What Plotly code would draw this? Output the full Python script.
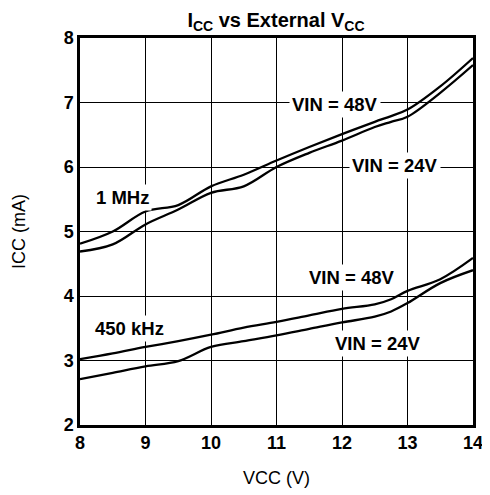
import plotly.graph_objects as go

vcc = [8, 8.5, 9, 9.5, 10, 10.5, 11, 11.5, 12, 12.5, 12.75, 13, 13.5, 14]
icc_1m_48 = [4.81, 5.00, 5.31, 5.41, 5.70, 5.88, 6.10, 6.31, 6.51, 6.70, 6.79, 6.89, 7.25, 7.69]
icc_1m_24 = [4.69, 4.80, 5.11, 5.34, 5.60, 5.70, 6.00, 6.22, 6.41, 6.62, 6.70, 6.78, 7.15, 7.58]
icc_450_48 = [3.02, 3.11, 3.21, 3.30, 3.40, 3.51, 3.60, 3.70, 3.80, 3.87, 3.95, 4.08, 4.26, 4.59]
icc_450_24 = [2.71, 2.81, 2.91, 2.99, 3.21, 3.30, 3.39, 3.49, 3.59, 3.68, 3.76, 3.89, 4.20, 4.40]

labels = [
    ("1 MHz", 8.65, 5.52),
    ("VIN = 48V", 11.9, 6.97),
    ("VIN = 24V", 12.81, 6.03),
    ("450 kHz", 8.76, 3.50),
    ("VIN = 48V", 12.15, 4.29),
    ("VIN = 24V", 12.55, 3.26),
]

FONT = "Liberation Sans, Arial"

fig = go.Figure()
for ys in [icc_1m_48, icc_1m_24, icc_450_48, icc_450_24]:
    fig.add_trace(go.Scatter(x=vcc, y=ys, mode="lines",
                             line=dict(color="black", width=2.3, shape="spline", smoothing=1.0),
                             showlegend=False, hoverinfo="skip"))

for txt, x, y in labels:
    fig.add_annotation(x=x, y=y, text="<b>" + txt + "</b>", showarrow=False, bgcolor="white",
                       font=dict(family=FONT, size=18.5, color="black"), borderpad=2)

fig.update_layout(
    width=476, height=480,
    margin=dict(l=72, r=11, t=30, b=63),
    paper_bgcolor="white", plot_bgcolor="white",
    font=dict(family=FONT, size=18, color="black"),
    title=dict(text="<b>I<sub>CC</sub> vs External V<sub>CC</sub></b>", x=0.563, xanchor="center",
               y=0.975, yanchor="middle", font=dict(family=FONT, size=20, color="black")),
    xaxis=dict(range=[8, 14], dtick=1, showgrid=True, gridcolor="black", gridwidth=1,
               showline=True, linecolor="black", linewidth=2.5, mirror=True, zeroline=False,
               automargin=False,
               ticks="", tickfont=dict(family=FONT, size=18, color="black"),
               tickprefix="<b>", ticksuffix="</b>",
               title=dict(text="VCC (V)", standoff=23, font=dict(family=FONT, size=18))),
    yaxis=dict(range=[2, 8], dtick=1, showgrid=True, gridcolor="black", gridwidth=1,
               showline=True, linecolor="black", linewidth=2.5, mirror=True, zeroline=False,
               automargin=False,
               ticks="", tickfont=dict(family=FONT, size=18, color="black"),
               tickprefix="<b>", ticksuffix="</b>",
               title=dict(text="ICC (mA)", standoff=34, font=dict(family=FONT, size=18))),
)

fig.write_html("out.html")
